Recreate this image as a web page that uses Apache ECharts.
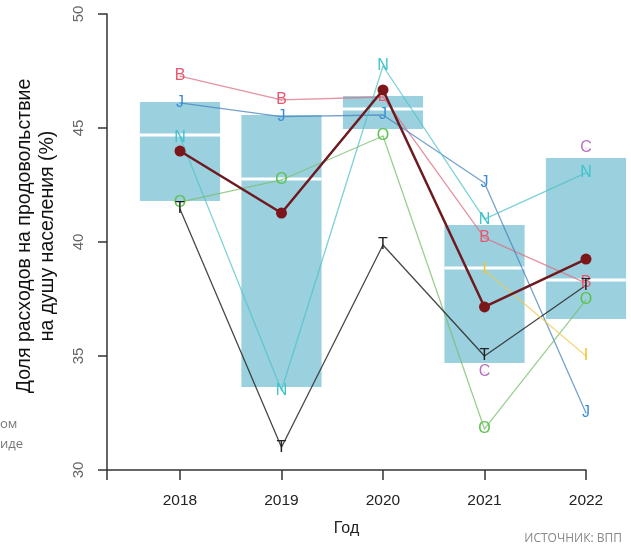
<!DOCTYPE html>
<html>
<head>
<meta charset="utf-8">
<script src="https://cdn.jsdelivr.net/npm/echarts@6/dist/echarts.min.js"></script>
<style>
  html, body { margin: 0; padding: 0; background: #fff; }
  #chart { width: 631px; height: 552px; }
</style>
</head>
<body>
<div id="chart"></div>
<script>
// годы и блоки (прямоугольники с медианой)
const years = [2018, 2019, 2020, 2021, 2022]
const boxLow = [41.8, 33.64, 44.96, 34.69, 36.62]
const boxMedian = [44.69, 42.76, 45.83, 38.86, 38.33]
const boxHigh = [46.14, 45.57, 46.4, 40.75, 43.68]

// средняя линия (тёмно-красная)
const meanValues = [43.99, 41.27, 46.67, 37.15, 39.25]

// отдельные ряды с буквенными маркерами
const seriesB = [47.28, 46.23, 46.36, 40.18, 38.2]
const seriesJ = [46.1, 45.5, 45.57, 42.59, 32.5]
const seriesN = [44.6, 33.5, 47.72, 41.0, 43.03]
const seriesO = [41.75, 42.72, 44.65, 31.8, 37.46]
const seriesT = [41.45, 31.0, 39.87, 35.0, 38.1]
const seriesI = [null, null, null, 38.77, 35.0]
const seriesC = [null, null, null, 34.3, 44.12]

const yTicks = [30, 35, 40, 45, 50]
const xMin = 2017.281

function pairs(vals) {
  return years.map((y, i) => [y, vals[i]]).filter(p => p[1] !== null)
}

function letterLine(name, letter, vals, color, lineColor) {
  return {
    name: name,
    type: 'line',
    data: pairs(vals),
    symbol: 'circle',
    symbolSize: 1,
    itemStyle: { color: color },
    lineStyle: { color: lineColor, width: 1.3 },
    label: {
      show: true,
      position: 'inside',
      formatter: letter,
      color: color,
      fontSize: 16,
      fontFamily: 'Liberation Sans'
    },
    z: 3
  }
}

const chart = echarts.init(document.getElementById('chart'))
chart.setOption({
  animation: false,
  backgroundColor: '#fff',
  grid: { left: 107, right: 45, top: 14, bottom: 82 },
  xAxis: {
    type: 'value',
    min: xMin,
    max: 2022,
    name: 'Год',
    nameLocation: 'middle',
    nameGap: 51,
    nameTextStyle: { fontSize: 16, color: '#222', fontFamily: 'Liberation Sans' },
    axisLine: { show: true, lineStyle: { color: '#333', width: 1.5 } },
    axisTick: { show: true, length: 10, customValues: [xMin].concat(years), lineStyle: { color: '#333', width: 1.5 } },
    axisLabel: {
      customValues: years,
      formatter: v => String(v),
      margin: 23,
      fontSize: 15.5,
      color: '#222',
      fontFamily: 'Liberation Sans'
    },
    splitLine: { show: false }
  },
  yAxis: {
    type: 'value',
    min: yTicks[0],
    max: yTicks[yTicks.length - 1],
    interval: 5,
    name: 'Доля расходов на продовольствие\nна душу населения (%)',
    nameLocation: 'middle',
    nameRotate: 90,
    nameGap: 48,
    nameTextStyle: { fontSize: 19.5, color: '#111', lineHeight: 23, padding: [0, 0, 0, 12], fontFamily: 'Liberation Sans' },
    axisLine: { show: true, lineStyle: { color: '#333', width: 1.5 } },
    axisTick: { show: true, length: 9, lineStyle: { color: '#333', width: 1.5 } },
    axisLabel: { rotate: 90, margin: 21, fontSize: 15, color: '#666', fontFamily: 'Liberation Sans' },
    splitLine: { show: false }
  },
  series: [
    {
      name: 'boxes',
      type: 'custom',
      clip: false,
      z: 1,
      data: years.map((y, i) => [y, boxLow[i], boxMedian[i], boxHigh[i]]),
      renderItem: function (params, api) {
        const x = api.value(0)
        const p1 = api.coord([x - 0.395, api.value(3)])
        const p2 = api.coord([x + 0.395, api.value(1)])
        const m1 = api.coord([x - 0.395, api.value(2)])
        const m2 = api.coord([x + 0.395, api.value(2)])
        return {
          type: 'group',
          children: [
            {
              type: 'rect',
              shape: { x: p1[0], y: p1[1], width: p2[0] - p1[0], height: p2[1] - p1[1] },
              style: { fill: '#9bd0de' }
            },
            {
              type: 'line',
              shape: { x1: m1[0], y1: m1[1], x2: m2[0], y2: m2[1] },
              style: { stroke: '#fff', lineWidth: 3 }
            }
          ]
        }
      }
    },
    letterLine('B', 'B', seriesB, '#e8566f', 'rgba(222,110,130,0.75)'),
    letterLine('J', 'J', seriesJ, '#3a8ed8', 'rgba(70,130,190,0.75)'),
    letterLine('N', 'N', seriesN, '#3ec3cc', 'rgba(80,195,200,0.75)'),
    letterLine('O', 'O', seriesO, '#5cc24e', 'rgba(120,190,110,0.75)'),
    letterLine('T', 'T', seriesT, '#222', 'rgba(40,40,40,0.85)'),
    letterLine('I', 'I', seriesI, '#f4c22b', 'rgba(240,200,80,0.75)'),
    {
      name: 'C',
      type: 'scatter',
      data: pairs(seriesC),
      symbolSize: 1,
      itemStyle: { color: '#a24caf' },
      label: { show: true, position: 'inside', formatter: 'C', color: '#a24caf', fontSize: 16, fontFamily: 'Liberation Sans' },
      z: 3
    },
    {
      name: 'mean',
      type: 'line',
      data: pairs(meanValues),
      symbol: 'circle',
      symbolSize: 11,
      itemStyle: { color: '#7d161b' },
      lineStyle: { color: '#6e1a20', width: 2.5 },
      z: 4
    }
  ],
  graphic: [
    { type: 'text', left: 0, top: 418, style: { text: 'ом', fontSize: 13, fill: '#777', fontFamily: 'Open Sans' } },
    { type: 'text', left: 0, top: 438, style: { text: 'иде', fontSize: 13, fill: '#777', fontFamily: 'Open Sans' } },
    { type: 'text', right: 9, top: 533, style: { text: 'ИСТОЧНИК: ВПП', fontSize: 12, fill: '#888', fontFamily: 'Open Sans' } }
  ]
})
</script>
</body>
</html>
